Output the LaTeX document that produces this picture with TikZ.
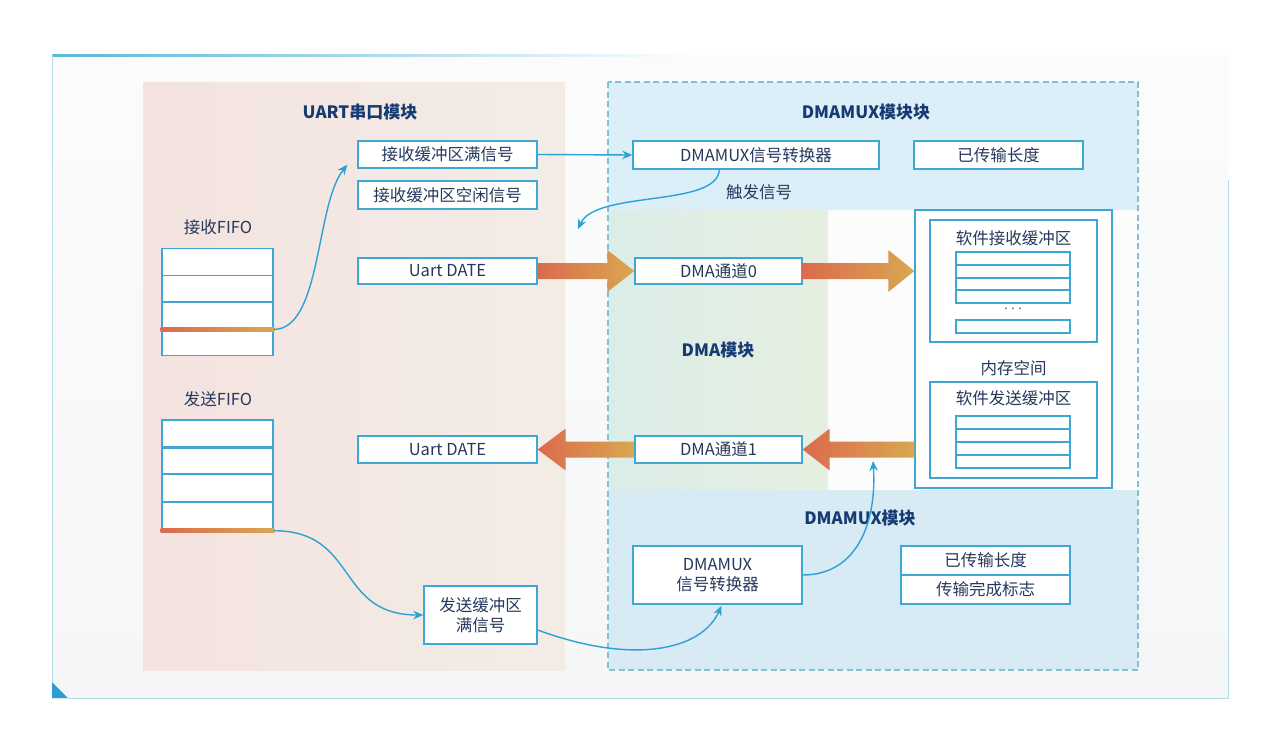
\documentclass[tikz,border=0pt]{standalone}
\usepackage{fontspec}
\setmainfont{Noto Sans CJK SC}
\usetikzlibrary{arrows.meta,calc}
\definecolor{bd}{HTML}{3DA8D3}
\definecolor{tx}{HTML}{26395C}
\definecolor{ttl}{HTML}{163B73}
\definecolor{conc}{HTML}{2AA2D4}
\definecolor{arR}{HTML}{DC6A4E}
\definecolor{arG}{HTML}{D8A850}
\definecolor{uartL}{HTML}{F4E3E0}
\definecolor{uartR}{HTML}{F3ECE5}
\definecolor{muxT}{HTML}{DCEFF8}
\definecolor{muxB}{HTML}{D8EAF3}
\definecolor{dmaL}{HTML}{DBEDE9}
\definecolor{dmaR}{HTML}{E6EFDF}
\definecolor{dashc}{HTML}{84C0D4}
\definecolor{panel}{HTML}{F5F6F7}
\definecolor{frame}{HTML}{5BB8D8}
\definecolor{frame2}{HTML}{B3DAE6}
\definecolor{tri}{HTML}{2A9FD6}
\begin{document}
\begin{tikzpicture}[x=1pt,y=-1pt,
  box/.style={draw=bd, line width=1.4pt, fill=white, inner sep=0pt, text=tx,
    font=\fontsize{16.5}{20}\selectfont, align=center},
  row/.style={draw=bd, line width=1.4pt, fill=none, inner sep=0pt},
  cont/.style={draw=bd, line width=1.4pt, fill=white, inner sep=0pt},
  plain/.style={inner sep=0pt, text=tx, font=\fontsize{16.5}{20}\selectfont},
  title/.style={inner sep=0pt, text=ttl, font=\fontsize{17}{20}\selectfont\bfseries},
  conn/.style={draw=conc, line width=1.4pt, -{Stealth[length=10pt,width=8.5pt]}}]
\useasboundingbox (0,0) rectangle (1280,753);
\fill[white] (0,0) rectangle (1280,753);
% panel
\shade[top color=white!60!panel, bottom color=panel] (52,55) rectangle (1228,698);
\shade[left color=frame, right color=white] (52,54) rectangle (700,56);
\draw[frame2, line width=1pt] (52,55) -- (52,682);
\draw[frame2, line width=1pt] (1228,180) -- (1228,698) -- (68,698);
\fill[tri] (52,682) -- (52,698) -- (68,698) -- cycle;
% regions
\shade[left color=uartL, right color=uartR] (143,82) rectangle (565,670);
\fill[muxT] (608,82) rectangle (1138,210);
\shade[left color=dmaL, right color=dmaR] (608,210) rectangle (828,490);
\fill[white!70!panel] (828,210) rectangle (1138,490);
\fill[muxB] (608,490) rectangle (1138,670);
\draw[dashc, dash pattern=on 6pt off 3.5pt, line width=1.1pt] (608,82) rectangle (1138,670);
% titles
\node[title] (t1) at (360,112) {UART串口模块};
\node[title] (t2) at (866,112) {DMAMUX模块块};
\node[title] (t3) at (718,350) {DMA模块};
\node[title] (t4) at (860,518) {DMAMUX模块};
% UART boxes
\node[box, minimum width=179pt, minimum height=27pt] (rfull) at (447.5,154.5) {接收缓冲区满信号};
\node[box, minimum width=179pt, minimum height=28pt] (ridle) at (447.5,195) {接收缓冲区空闲信号};
\node[box, minimum width=179pt, minimum height=26pt] (ud1) at (447.5,271) {Uart DATE};
\node[box, minimum width=179pt, minimum height=27pt] (ud2) at (447.5,449.5) {Uart DATE};
\node[box, minimum width=113pt, minimum height=58pt] (tfull) at (480.5,615) {发送缓冲区\\满信号};
% FIFOs
\node[plain] (rxl) at (218,227) {接收FIFO};
\node[plain] (txl) at (218,399) {发送FIFO};
\fill[white] (162,249) rectangle (273,355);
\fill[white] (162,420) rectangle (273,530);
\foreach \i/\y in {1/262,2/288.5,3/315.5,4/342}
  \node[row, minimum width=111pt, minimum height=26.5pt] (rx\i) at (217.5,\y) {};
\foreach \i/\y in {1/434,2/460.5,3/488,4/516}
  \node[row, minimum width=111pt, minimum height=28pt] (tx\i) at (217.5,\y) {};
\shade[left color=arR, right color=arG] ($(rx3.south west)+(-0.7,-2)$) rectangle ($(rx3.south east)+(0.7,2)$);
\shade[left color=arR, right color=arG] ($(tx4.south west)+(-0.7,-2)$) rectangle ($(tx4.south east)+(0.7,2)$);
% DMAMUX / DMA boxes
\node[box, minimum width=246pt, minimum height=28pt] (mux1) at (756,155) {DMAMUX信号转换器};
\node[box, minimum width=169pt, minimum height=28pt] (len1) at (998.5,155) {已传输长度};
\node[box, minimum width=167pt, minimum height=26pt] (ch0) at (718.5,271) {DMA通道0};
\node[box, minimum width=167pt, minimum height=27pt] (ch1) at (718.5,449.5) {DMA通道1};
\node[box, minimum width=169pt, minimum height=58pt] (mux2) at (717.5,575) {DMAMUX\\信号转换器};
\fill[white] (901,546) rectangle (1070,604);
\node[row, text=tx, font=\fontsize{16.5}{20}\selectfont, minimum width=169pt, minimum height=29pt] (len2) at (985.5,560.5) {已传输长度};
\node[row, text=tx, font=\fontsize{16.5}{20}\selectfont, minimum width=169pt, minimum height=29pt] (done) at (985.5,589.5) {传输完成标志};
% memory
\node[cont, minimum width=197pt, minimum height=278pt] (mem) at (1013.5,349) {};
\node[cont, minimum width=167pt, minimum height=122pt] (rbuf) at (1013.5,281) {};
\node[plain] (rbufl) at (1013.5,238) {软件接收缓冲区};
\foreach \i/\y in {1/258.5,2/271.5,3/284,4/296.5}
  \node[row, minimum width=114pt, minimum height=12.7pt] (rb\i) at (1013,\y) {};
\node[plain, font=\fontsize{12}{12}\selectfont] (dots) at (1013,309) {. . .};
\node[row, minimum width=114pt, minimum height=13pt] (rblast) at (1013,326.5) {};
\node[plain] (meml) at (1013.5,368) {内存空间};
\node[cont, minimum width=167pt, minimum height=96pt] (sbuf) at (1013.5,430) {};
\node[plain] (sbufl) at (1013.5,398) {软件发送缓冲区};
\foreach \i/\y in {1/422.5,2/435.5,3/448.5,4/461.5}
  \node[row, minimum width=114pt, minimum height=13pt] (sb\i) at (1013,\y) {};
% big gradient arrows
\shade[left color=arR, right color=arG] let \p1=(ud1.east), \p2=(ch0.west) in
  (\x1,{\y2+8pt}) -- ({\x2-27pt},{\y2+8pt}) -- ({\x2-27pt},{\y2+21pt}) -- (\x2,\y2)
  -- ({\x2-27pt},{\y2-21pt}) -- ({\x2-27pt},{\y2-8pt}) -- (\x1,{\y2-8pt}) -- cycle;
\shade[left color=arR, right color=arG] let \p1=(ch0.east), \p2=(mem.west) in
  (\x1,{\y1+8pt}) -- ({\x2-26pt},{\y1+8pt}) -- ({\x2-26pt},{\y1+21pt}) -- (\x2,\y1)
  -- ({\x2-26pt},{\y1-21pt}) -- ({\x2-26pt},{\y1-8pt}) -- (\x1,{\y1-8pt}) -- cycle;
\shade[left color=arR, right color=arG] let \p1=(mem.west), \p2=(ch1.east) in
  (\x1,{\y2+8pt}) -- ({\x2+27pt},{\y2+8pt}) -- ({\x2+27pt},{\y2+21pt}) -- (\x2,\y2)
  -- ({\x2+27pt},{\y2-21pt}) -- ({\x2+27pt},{\y2-8pt}) -- (\x1,{\y2-8pt}) -- cycle;
\shade[left color=arR, right color=arG] let \p1=(ch1.west), \p2=(ud2.east) in
  (\x1,{\y1+8pt}) -- ({\x2+28pt},{\y1+8pt}) -- ({\x2+28pt},{\y1+21pt}) -- (\x2,\y1)
  -- ({\x2+28pt},{\y1-21pt}) -- ({\x2+28pt},{\y1-8pt}) -- (\x1,{\y1-8pt}) -- cycle;
% thin connectors
\coordinate (rfin) at ($(rfull.south west)+(-10,-4)$);
\draw[conn] (rx3.south east) .. controls +(48,0) and +(-32,40) .. (rfin);
\draw[conn] (rfull.east) -- (mux1.west);
\coordinate (trigS) at ($(mux1.south west)+(87,0)$);
\coordinate (trigE) at (578,229);
\draw[conn] (trigS) .. controls +(-2,38) and (596,190) .. (trigE);
\node[plain] (trigl) at (759,192) {触发信号};
\draw[conn] (tx4.south east) .. controls +(85,0) and +(-88,0) .. (tfull.west);
\coordinate (tfS) at ($(tfull.east)+(0,15)$);
\coordinate (mux2in) at ($(mux2.south)+(4,1)$);
\draw[conn] (tfS) .. controls +(95,35) and +(-20,45) .. (mux2in);
\coordinate (upE) at (873,461);
\draw[conn] (mux2.east) .. controls +(55,0) and +(4,60) .. (upE);
\end{tikzpicture}
\end{document}
